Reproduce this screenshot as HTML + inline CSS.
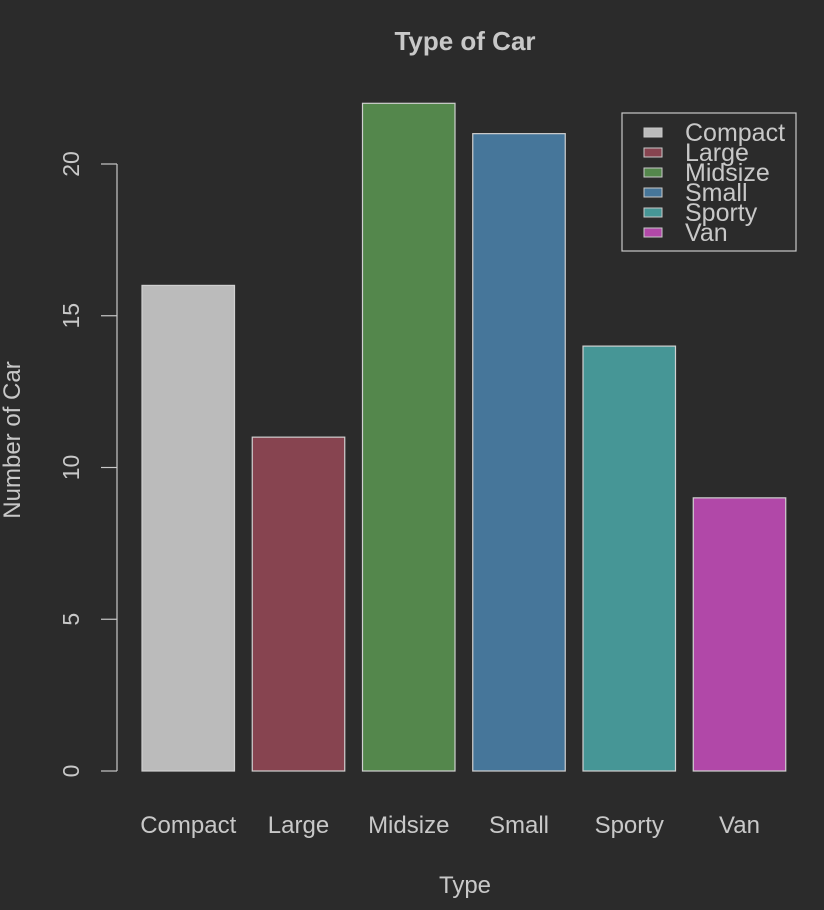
<!DOCTYPE html>
<html><head><meta charset="utf-8"><style>
html,body{margin:0;padding:0;background:#2b2b2b;overflow:hidden;}
svg{display:block;}
svg text{font-family:"Liberation Sans",sans-serif;fill:#c8c8c8;}
</style></head><body>
<svg width="824" height="910" xmlns="http://www.w3.org/2000/svg">
<rect width="824" height="910" fill="#2b2b2b"/>
<text x="465" y="50" font-size="26" font-weight="bold" text-anchor="middle">Type of Car</text>
<text x="465" y="893" font-size="24" text-anchor="middle">Type</text>
<text transform="translate(20,440) rotate(-90)" font-size="24" text-anchor="middle">Number of Car</text>
<g id="yaxis"></g>
<g id="bars"></g>
<g id="xlabels"></g>
<g id="legend"></g>
</svg>
<script>
const categories=["Compact","Large","Midsize","Small","Sporty","Van"];
const counts=[16,11,22,21,14,9];
const colors=["#bbbbbb","#874450","#54874c","#46769a","#469696","#b148a8"];
const yTicks=[0,5,10,15,20];
const NS="http://www.w3.org/2000/svg";
function y(v){return 771-v*30.35;}
function xLeft(i){return 142+i*110.25;}
const bw=92.5;
function mk(tag,attrs,parent){const e=document.createElementNS(NS,tag);for(const k in attrs)e.setAttribute(k,attrs[k]);parent.appendChild(e);return e;}
const ya=document.getElementById('yaxis');
mk('line',{x1:117,x2:117,y1:y(0),y2:y(yTicks[yTicks.length-1]),stroke:'#c8c8c8','stroke-width':1.2},ya);
yTicks.forEach(t=>{
  mk('line',{x1:101,x2:117,y1:y(t),y2:y(t),stroke:'#c8c8c8','stroke-width':1.2},ya);
  const tx=mk('text',{transform:`translate(79,${y(t)}) rotate(-90)`,'font-size':23,'text-anchor':'middle'},ya);
  tx.textContent=t;
  
  
});
const bg=document.getElementById('bars'),xl=document.getElementById('xlabels');
categories.forEach((c,i)=>{
  const r=mk('rect',{x:xLeft(i),y:y(counts[i]),width:bw,height:y(0)-y(counts[i]),fill:colors[i],stroke:'#d0d0d0','stroke-width':1.2},bg);
  
  
  const t=mk('text',{x:xLeft(i)+bw/2,y:833,'font-size':24,'text-anchor':'middle'},xl);
  t.textContent=c;
  
  
});
const lg=document.getElementById('legend');
mk('rect',{x:622,y:113,width:174,height:138,fill:'none',stroke:'#c8c8c8','stroke-width':1.2},lg);
categories.forEach((c,i)=>{
  const cy=132+i*20;
  const s=mk('rect',{x:644,y:cy-4,width:18,height:9,fill:colors[i],stroke:'#c8c8c8','stroke-width':1},lg);
  
  
  const t=mk('text',{x:685,y:cy+9,'font-size':25},lg);
  t.textContent=c;
  
  
});
</script>
</body></html>
